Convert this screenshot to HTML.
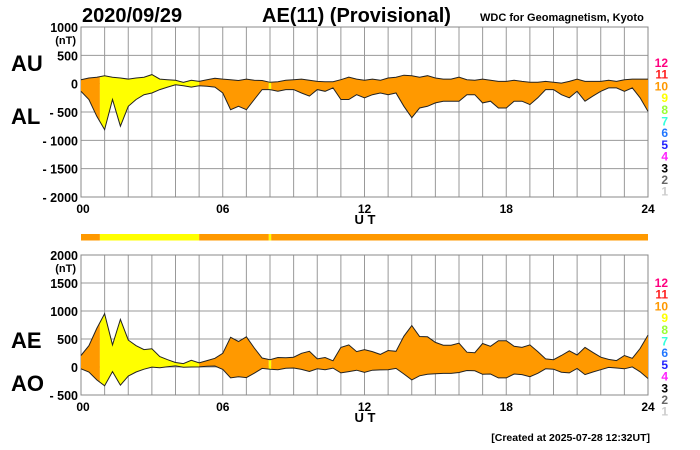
<!DOCTYPE html>
<html><head><meta charset="utf-8"><style>
body{margin:0;background:#fff}
svg{display:block;font-family:"Liberation Sans",Arial,sans-serif}
.b{font-weight:bold}
</style></head><body>
<svg id="c" width="700" height="450" viewBox="0 0 700 450"></svg>
<script>
// Hours sampled every 20 minutes (0..24)
const hours = [];
for (let i = 0; i <= 72; i++) hours.push(i / 3);
const auValues = [70,100,115,140,115,100,80,100,115,160,80,70,60,25,60,40,70,95,80,70,55,80,60,55,25,35,60,70,80,60,40,35,35,70,115,80,60,80,60,100,115,150,140,115,140,100,80,80,115,70,60,80,60,40,40,60,40,25,25,40,25,10,40,80,40,40,40,60,40,70,80,80,80];
const alValues = [-135,-280,-575,-810,-280,-750,-400,-280,-195,-165,-105,-60,-20,-35,-60,-35,-45,-60,-165,-460,-400,-460,-280,-105,-105,-135,-105,-105,-165,-220,-105,-135,-75,-280,-280,-195,-250,-195,-165,-195,-165,-400,-600,-430,-400,-340,-310,-310,-310,-195,-195,-340,-310,-430,-430,-310,-310,-370,-250,-105,-105,-195,-250,-135,-310,-220,-135,-75,-75,-135,-75,-250,-490];
const aeValues = auValues.map((u, i) => u - alValues[i]);
const aoValues = auValues.map((u, i) => (u + alValues[i]) / 2);
const segStarts = [0, 0.8, 5, 7.95, 8.05];
const segEnds = [0.8, 5, 7.95, 8.05, 24];
const segLevels = [10, 9, 10, 9, 10];
const levelLabels = ['12','11','10','9','8','7','6','5','4','3','2','1'];
const levelColors = ['#ff0080','#ff2020','#ff9900','#ffff00','#99ff33','#33ffdd','#2277ff','#2222ff','#ff22ff','#000000','#666666','#cccccc'];
const xTicks = ['00','06','12','18','24'];
const topTicks = [1000,500,0,-500,-1000,-1500,-2000];
const botTicks = [2000,1500,1000,500,0,-500];

const NS = 'http://www.w3.org/2000/svg';
const svg = document.getElementById('c');
function mk(tag, attrs, parent) {
  const e = document.createElementNS(NS, tag);
  for (const k in attrs) e.setAttribute(k, attrs[k]);
  (parent || svg).appendChild(e);
  return e;
}
function txt(s, x, y, size, anchor, fill, parent) {
  const t = mk('text', {x, y, 'font-size': size, 'text-anchor': anchor || 'start', fill: fill || '#000', 'font-weight': 'bold'}, parent);
  t.textContent = s;
  return t;
}
const X0 = 81, X1 = 648;
const xs = h => X0 + (X1 - X0) * h / 24;
const fillColor = l => l === 9 ? '#ffff00' : '#ff9900';

const defs = mk('defs', {});
segStarts.forEach((s, i) => {
  const cp = mk('clipPath', {id: 'seg' + i}, defs);
  mk('rect', {x: xs(s), y: 0, width: xs(segEnds[i]) - xs(s), height: 450}, cp);
});

function panel(name, yTop, yBot, vMax, vMin, ticks, upper, lower, unitY) {
  const g = mk('g', {});
  
  
  const ys = v => yTop + (vMax - v) / (vMax - vMin) * (yBot - yTop);
  // grid
  for (let h = 1; h < 24; h++) mk('line', {x1: xs(h), x2: xs(h), y1: yTop, y2: yBot, stroke: '#999', 'stroke-width': 1}, g);
  ticks.forEach(v => mk('line', {x1: X0, x2: X1, y1: ys(v), y2: ys(v), stroke: '#999', 'stroke-width': 1}, g));
  mk('rect', {x: X0, y: yTop, width: X1 - X0, height: yBot - yTop, fill: 'none', stroke: '#888'}, g);
  // fill
  let d = '';
  hours.forEach((h, i) => d += (i ? 'L' : 'M') + xs(h).toFixed(1) + ' ' + ys(upper[i]).toFixed(1));
  for (let i = hours.length - 1; i >= 0; i--) d += 'L' + xs(hours[i]).toFixed(1) + ' ' + ys(lower[i]).toFixed(1);
  d += 'Z';
  segStarts.forEach((s, i) => {
    const p = mk('path', {d, fill: fillColor(segLevels[i]), 'clip-path': 'url(#seg' + i + ')'}, g);
    
    
  });
  let du = '', dl = '';
  hours.forEach((h, i) => {
    du += (i ? 'L' : 'M') + xs(h).toFixed(1) + ' ' + ys(upper[i]).toFixed(1);
    dl += (i ? 'L' : 'M') + xs(h).toFixed(1) + ' ' + ys(lower[i]).toFixed(1);
  });
  const lu = mk('path', {d: du, fill: 'none', stroke: '#222', 'stroke-width': 1}, g);
  
  
  const ll = mk('path', {d: dl, fill: 'none', stroke: '#222', 'stroke-width': 1}, g);
  
  
  // y ticks
  ticks.forEach(v => {
    const t = txt(v < 0 ? '- ' + (-v) : String(v), 78, ys(v) + 5, 12.5, 'end', '#000', g);
    
    
  });
  txt('(nT)', 76, ys(vMax) + 17, 11, 'end', '#000', g);
  // x ticks
  xTicks.forEach((s, i) => {
    const x = xs(i * 6);
    const t = txt(s, i === 0 ? x + 2 : x, yBot + 16, 12, 'middle', '#000', g);
    
    
  });
  txt('U T', 365, yBot + 27, 13, 'middle', '#000', g);
  // levels legend
  levelLabels.forEach((s, i) => {
    const t = txt(s, 668, yTop + 40 + i * 11.7 - (unitY || 0), 12, 'end', levelColors[i], g);
    
    
  });
  return ys;
}
panel('au-al-panel', 27, 197, 1000, -2000, topTicks, auValues, alValues, 0);
panel('ae-ao-panel', 255, 395, 2000, -500, botTicks, aeValues, aoValues, 8);

// colour bar
segStarts.forEach((s, i) => {
  const r = mk('rect', {x: xs(s), y: 234, width: xs(segEnds[i]) - xs(s), height: 6.5, fill: fillColor(segLevels[i])});
  
  
});

let t;
t = txt('2020/09/29', 82, 22, 20, 'start');  
t = txt('AE(11) (Provisional)', 262, 22, 20, 'start');  
t = txt('WDC for Geomagnetism, Kyoto', 480, 21, 11, 'start');  
t = txt('AU', 11, 71, 22, 'start');  
t = txt('AL', 11, 124, 22, 'start');  
t = txt('AE', 11, 348, 22, 'start');  
t = txt('AO', 11, 391, 22, 'start');  
t = txt('[Created at 2025-07-28 12:32UT]', 650, 441, 10.5, 'end');  
</script>
</body></html>
